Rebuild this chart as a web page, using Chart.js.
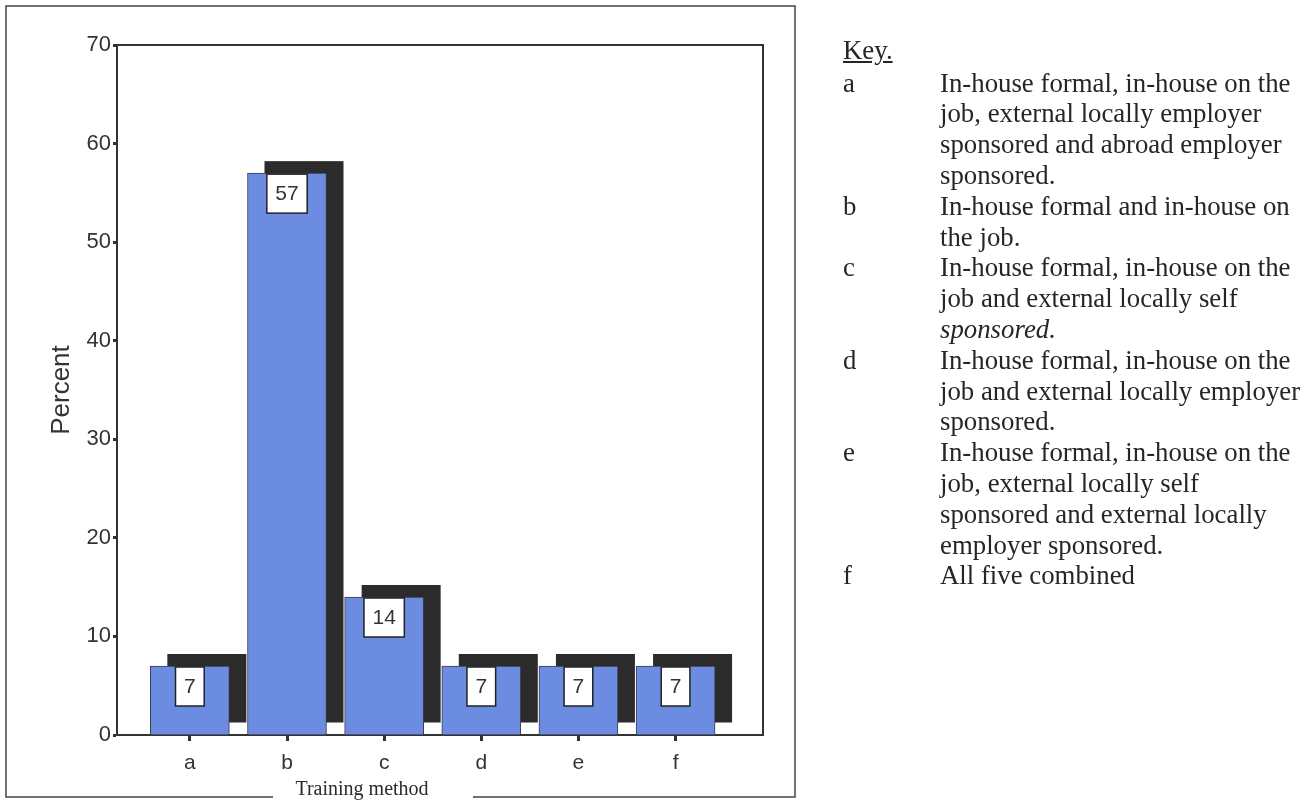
<!DOCTYPE html>
<html>
<head>
<meta charset="utf-8">
<title>Training method</title>
<script src="https://cdn.jsdelivr.net/npm/chart.js@4.4.1/dist/chart.umd.min.js"></script>
<style>
  html, body { margin: 0; padding: 0; background: #fff; }
  #wrap { position: relative; width: 1308px; height: 800px; overflow: hidden; }
  #chart { position: absolute; left: 0; top: 0; }
  .key {
    position: absolute; left: 843px;
    font-family: "Liberation Serif", "Times New Roman", serif;
    font-size: 26.8px; line-height: 30.8px; color: #262626;
    white-space: nowrap;
  }
  .key-title { top: 35px; text-decoration: underline; }
  .key-list { top: 67.6px; }
  .row { display: flex; }
  .row .k { width: 97px; }
  .row .t em { font-style: italic; }
</style>
</head>
<body>
<div id="wrap">
  <canvas id="chart" width="1308" height="800"></canvas>
  <div class="key key-title">Key.</div>
  <div class="key key-list">
    <div class="row"><div class="k">a</div><div class="t">In-house formal, in-house on the<br>job, external locally employer<br>sponsored and abroad employer<br>sponsored.</div></div>
    <div class="row"><div class="k">b</div><div class="t">In-house formal and in-house on<br>the job.</div></div>
    <div class="row"><div class="k">c</div><div class="t">In-house formal, in-house on the<br>job and external locally self<br><em>sponsored.</em></div></div>
    <div class="row"><div class="k">d</div><div class="t">In-house formal, in-house on the<br>job and external locally employer<br>sponsored.</div></div>
    <div class="row"><div class="k">e</div><div class="t">In-house formal, in-house on the<br>job, external locally self<br>sponsored and external locally<br>employer sponsored.</div></div>
    <div class="row"><div class="k">f</div><div class="t">All five combined</div></div>
  </div>
</div>
<script>
// Training method categories and the percent of respondents for each
const categories = ['a', 'b', 'c', 'd', 'e', 'f'];
const percentages = [7, 57, 14, 7, 7, 7];
const yTicks = [0, 10, 20, 30, 40, 50, 60, 70];

const barBlue = '#6b8ce0';
const shadowColor = '#2b2b2b';
const inkColor = '#333333';
const sansFont = '"Liberation Sans", Arial, sans-serif';

// Outer frame plus the open plot box (top and right edges)
const framePlugin = {
    id: 'frame',
    beforeDraw(chart) {
        const ctx = chart.ctx;
        const area = chart.chartArea;
        ctx.save();
        ctx.fillStyle = '#fff';
        ctx.fillRect(0, 0, chart.width, chart.height);

        ctx.strokeStyle = '#444';
        ctx.lineWidth = 1.5;
        ctx.beginPath();
        ctx.moveTo(273, 797);
        ctx.lineTo(6, 797);
        ctx.lineTo(6, 6);
        ctx.lineTo(795, 6);
        ctx.lineTo(795, 797);
        ctx.lineTo(473, 797);
        ctx.stroke();

        ctx.strokeStyle = inkColor;
        ctx.lineWidth = 2;
        ctx.beginPath();
        ctx.moveTo(area.left, area.top);
        ctx.lineTo(area.right, area.top);
        ctx.lineTo(area.right, area.bottom);
        ctx.stroke();

        ctx.fillStyle = '#2a2a2a';
        ctx.font = '20px "Liberation Serif", "Times New Roman", serif';
        ctx.textAlign = 'center';
        ctx.textBaseline = 'alphabetic';
        ctx.fillText('Training method', 362, 795);
        ctx.restore();
    }
};

// Dark drop shadow behind every bar, shifted right and up
const shadowPlugin = {
    id: 'barShadow',
    beforeDatasetsDraw(chart) {
        const ctx = chart.ctx;
        const meta = chart.getDatasetMeta(0);
        ctx.save();
        ctx.fillStyle = shadowColor;
        meta.data.forEach(bar => {
            const {x, y, base, width} = bar.getProps(['x', 'y', 'base', 'width'], true);
            ctx.fillRect(x - width / 2 + 17, y - 12, width, base - y);
        });
        ctx.restore();
    }
};

// Boxed value labels hanging from the top of each bar
const valueLabelPlugin = {
    id: 'valueLabels',
    afterDatasetsDraw(chart) {
        const ctx = chart.ctx;
        const meta = chart.getDatasetMeta(0);
        ctx.save();
        ctx.font = '21px ' + sansFont;
        ctx.textAlign = 'center';
        ctx.textBaseline = 'middle';
        meta.data.forEach((bar, i) => {
            const text = String(percentages[i]);
            const w = ctx.measureText(text).width + 17;
            const h = 39;
            const left = bar.x - w / 2;
            const top = bar.y + 1;
            ctx.fillStyle = '#fff';
            ctx.fillRect(left, top, w, h);
            ctx.strokeStyle = '#222';
            ctx.lineWidth = 1.5;
            ctx.strokeRect(left, top, w, h);
            ctx.fillStyle = inkColor;
            ctx.fillText(text, bar.x, top + h / 2 + 1);
        });
        ctx.restore();
    }
};

new Chart(document.getElementById('chart'), {
    type: 'bar',
    data: {
        datasets: [{
            data: categories.map((c, i) => ({ x: i, y: percentages[i] })),
            backgroundColor: barBlue,
            borderColor: '#3a3a50',
            borderWidth: 1,
            barThickness: 79
        }]
    },
    options: {
        responsive: false,
        animation: false,
        layout: { padding: { left: 0, top: 45, right: 545, bottom: 0 } },
        plugins: {
            legend: { display: false },
            tooltip: { enabled: false }
        },
        scales: {
            x: {
                type: 'linear',
                offset: false,
                min: -0.75,
                max: 5.9,
                afterFit: scale => { scale.height = 65; },
                grid: { offset: false, drawOnChartArea: false, tickLength: 6, tickWidth: 3, tickColor: inkColor },
                border: { display: true, color: inkColor, width: 2 },
                ticks: {
                    stepSize: 1,
                    includeBounds: false,
                    autoSkip: false,
                    maxRotation: 0,
                    padding: 10,
                    color: inkColor,
                    font: { family: sansFont, size: 21 },
                    callback: v => (Number.isInteger(v) && categories[v]) ? categories[v] : ''
                }
            },
            y: {
                min: yTicks[0],
                max: yTicks[yTicks.length - 1],
                afterFit: scale => { scale.width = 117; },
                afterBuildTicks: scale => { scale.ticks = yTicks.map(v => ({ value: v })); },
                grid: { drawOnChartArea: false, tickLength: 4, tickWidth: 3, tickColor: inkColor },
                border: { display: true, color: inkColor, width: 2 },
                ticks: {
                    padding: 2,
                    color: inkColor,
                    font: { family: sansFont, size: 22 }
                },
                title: {
                    display: true,
                    text: 'Percent',
                    color: inkColor,
                    font: { family: sansFont, size: 26 },
                    padding: { top: 46, bottom: 0 }
                }
            }
        }
    },
    plugins: [framePlugin, shadowPlugin, valueLabelPlugin]
});
</script>
</body>
</html>
